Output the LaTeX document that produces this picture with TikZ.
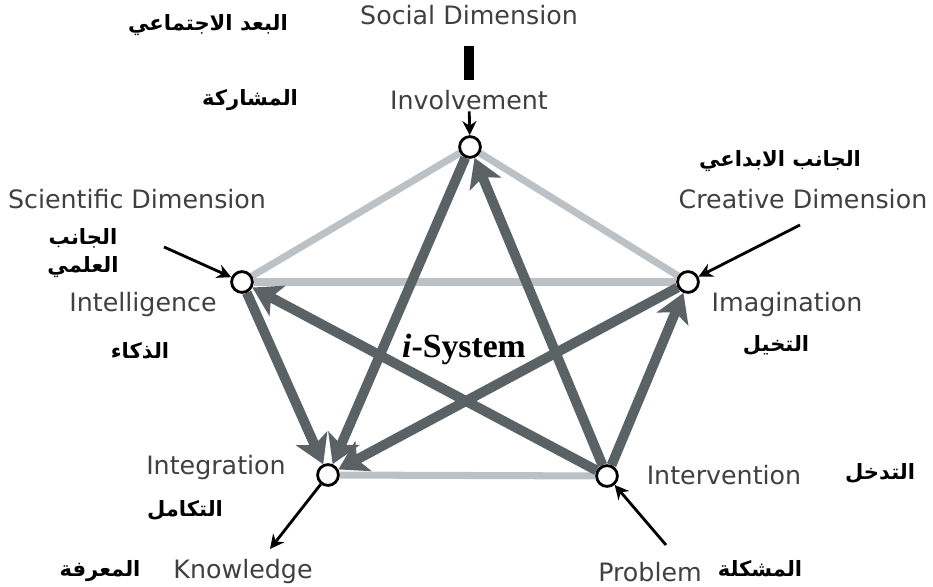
\documentclass[tikz,border=0pt]{standalone}
\usepackage{fontspec}
\setmainfont{DejaVu Sans}
\newfontfamily\arabicfont[Script=Arabic]{DejaVu Sans}
\newfontfamily\titlefont{Liberation Serif}
\TeXXeTstate=1
\usetikzlibrary{arrows.meta}

\definecolor{rimlight}{HTML}{BCC1C5}
\definecolor{stardark}{HTML}{5A6266}
\newcommand{\artext}[1]{{\arabicfont\bfseries\beginR #1\endR}}

\pgfdeclarelayer{back}
\pgfdeclarelayer{links}
\pgfsetlayers{back,links,main}

\begin{document}
\begin{tikzpicture}[
  every node/.style={inner sep=1pt},
  lbl/.style={font=\fontsize{18}{21}\selectfont, text=black!75},
  arlbl/.style={font=\fontsize{15}{20}\selectfont, align=center},
  dot/.style={circle, draw=black, line width=2pt, fill=white,
              minimum size=0.52cm, inner sep=0pt},
  rim/.style={rimlight, line width=5pt},
  star/.style={stardark, line width=7pt,
               -{Stealth[length=20pt, width=24pt, inset=5pt]}},
  ptr/.style={black, line width=2pt, -{Stealth[length=10pt, width=10pt]}},
  bar/.style={black, line width=7pt}
]
\begin{pgfonlayer}{back}
  \fill[white] (0,0) rectangle (23.325,14.675);
\end{pgfonlayer}

% ---- The five circles ----
\node[dot] (inv)    at (11.75, 11.0)  {};
\node[dot] (intl)   at (6.05,  7.625) {};
\node[dot] (imag)   at (17.2,  7.625) {};
\node[dot] (integ)  at (8.2,   2.8)   {};
\node[dot] (interv) at (15.175,2.775) {};

% ---- Top: social dimension ----
\node[arlbl] (socar)  at (5.2, 14.05)   {\artext{البعد الاجتماعي}};
\node[lbl]   (social) at (11.725, 14.3) {Social Dimension};
\node[arlbl] (invar)  at (6.25, 12.175) {\artext{المشاركة}};
\node[lbl]   (invlab) at (11.725,12.175) {Involvement};

% ---- Right: creative dimension ----
\node[arlbl] (crear)    at (19.5, 10.65)  {\artext{الجانب الابداعي}};
\node[lbl]   (creative) at (20.075, 9.7)  {Creative Dimension};
\node[lbl]   (imaglab)  at (19.675, 7.05) {Imagination};
\node[arlbl] (imagar)   at (19.4, 6.05)   {\artext{التخيل}};
\coordinate (cre-tail) at (20.0, 9.05);

% ---- Left: scientific dimension ----
\node[lbl]   (scientific) at (3.425, 9.7)  {Scientific Dimension};
\node[arlbl] (sciar)      at (2.075, 8.35) {\artext{الجانب}\\\artext{العلمي}};
\node[lbl]   (intllab)    at (3.575, 7.05) {Intelligence};
\node[arlbl] (intlar)     at (3.5, 5.9)    {\artext{الذكاء}};
\coordinate (sci-tail) at (4.1, 8.5);

% ---- Bottom left ----
\node[lbl]   (integlab) at (5.4, 2.975)  {Integration};
\node[arlbl] (integar)  at (4.625, 1.925) {\artext{التكامل}};
\node[arlbl] (knowar)   at (2.5, 0.4)    {\artext{المعرفة}};
\node[lbl]   (knowlab)  at (6.075, 0.375) {Knowledge};
\coordinate (know-tip) at (6.75, 0.95);

% ---- Bottom right ----
\node[lbl]   (intervlab) at (18.1, 2.8)   {Intervention};
\node[arlbl] (intervar)  at (22.0, 2.85)  {\artext{التدخل}};
\node[lbl]   (problab)   at (16.25, 0.375) {Problem};
\node[arlbl] (probar)    at (19.0, 0.45)  {\artext{المشكلة}};
\coordinate (prob-tail) at (16.65, 1.05);

% ---- Centre ----
\node[font=\titlefont\bfseries\fontsize{24}{26}\selectfont] (isys) at (11.6, 5.95)
  {{\itshape i}-System};

% ---- Pentagon rim and star arrows ----
\begin{pgfonlayer}{links}
  \foreach \a/\b in {inv/intl, inv/imag, intl/imag, integ/interv}
    \draw[rim] (\a) -- (\b);
  \foreach \a/\b in {interv/inv, inv/integ, intl/integ, imag/integ,
                     interv/intl, interv/imag}
    \draw[star] (\a) -- (\b);
\end{pgfonlayer}

% ---- Outside pointers ----
\draw[bar, shorten <=0.5cm, shorten >=0.22cm] (social) -- (invlab);
\draw[ptr] (invlab) -- (inv);
\draw[ptr] (cre-tail) -- (imag);
\draw[ptr] (sci-tail) -- (intl);
\draw[ptr] (integ) -- (know-tip);
\draw[ptr] (prob-tail) -- (interv);

\end{tikzpicture}
\end{document}
